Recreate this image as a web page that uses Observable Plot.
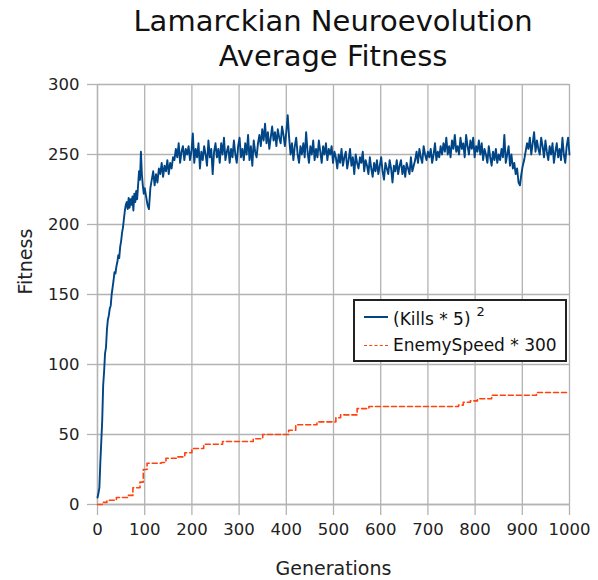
<!DOCTYPE html>
<html><head><meta charset="utf-8">
<script src="https://cdn.jsdelivr.net/npm/d3@7"></script>
<script src="https://cdn.jsdelivr.net/npm/@observablehq/plot@0.6"></script>
<style>
body{margin:0;background:#fff;font-family:"DejaVu Sans",sans-serif;}
#wrap{position:relative;width:598px;height:580px;}
#title{position:absolute;left:0;width:666px;top:4px;text-align:center;font-size:29px;line-height:35px;color:#111;}
#legend{position:absolute;left:353px;top:299px;width:210px;height:59px;border:2px solid #222;background:#fff;font-size:17px;color:#111;}
.li{position:absolute;left:9px;height:22px;display:flex;align-items:center;white-space:nowrap;}
.sw{width:24px;height:0;margin-right:5px;}
</style></head>
<body>
<div id="wrap">
<div id="title">Lamarckian Neuroevolution<br>Average Fitness</div>
<div id="chart"></div>
<div id="legend">
 <div class="li" style="top:5px"><div class="sw" style="border-top:2px solid #004586"></div><span>(Kills * 5)<sup style="font-size:13px;position:relative;top:-2px;margin-left:6px">2</sup></span></div>
 <div class="li" style="top:33px"><div class="sw" style="border-top:1.5px dashed #ff420e"></div><span>EnemySpeed * 300</span></div>
</div>
</div>
<script>
// Blue series: (Kills*5)^2 — early generations (step 2), then step 3
const killsEarlyGen = d3.range(0, 101, 2);
const killsEarlyFit = [5,8,12,30,45,60,85,95,108,112,125,132,135,140,142,150,155,160,166,165,170,173,178,176,184,188,194,198,204,210,214,216,211,219,212,218,214,220,210,222,216,224,218,228,238,232,252,236,228,222,226];
const killsLateGen = d3.range(103, 1001, 3);
const killsLateFit = [
 220,214,211,226,232,238,228,236,230,240,
 236,244,234,242,238,246,236,244,240,248,
 246,254,248,258,244,252,256,246,254,250,
 256,246,252,265,244,254,248,258,240,252,
 246,256,250,242,260,248,254,236,252,258,
 248,254,244,258,250,262,246,252,256,244,
 254,248,260,250,244,256,262,248,254,246,
 258,250,264,246,256,242,260,252,248,258,
 264,256,268,260,272,258,266,254,262,270,
 260,266,256,268,262,258,270,264,256,266,
 278,262,250,258,246,256,262,250,244,256,
 250,258,248,266,252,244,256,250,260,246,
 254,248,260,252,244,256,250,258,246,254,
 250,256,244,252,248,240,250,244,254,242,
 248,252,240,246,254,242,248,236,250,244,
 240,248,244,252,238,246,242,236,248,240,
 234,244,238,246,236,242,248,238,232,244,
 240,236,246,240,230,242,238,246,236,242,
 246,236,242,234,244,240,236,248,238,242,
 246,252,244,254,248,244,256,250,246,252,
 248,254,244,250,258,246,252,248,256,250,
 258,252,262,250,256,248,260,254,264,252,
 256,250,262,254,258,248,264,256,250,260,
 254,262,248,256,252,260,250,258,246,254,
 250,244,256,248,242,252,246,254,244,250,
 246,254,248,264,244,250,256,242,250,240,
 244,236,240,230,228,236,242,246,252,258,
 254,262,250,258,266,252,260,254,250,262,
 256,248,260,252,246,256,250,258,244,252,
 258,248,254,246,262,250,244,256,262,250];
// Orange series: EnemySpeed*300 (stepped)
const speedGen = [0,10,20,40,65,75,90,97,105,135,145,170,185,200,225,265,330,350,405,420,465,505,515,550,575,765,775,790,805,835,930,1000];
const speedFit = [0,1.5,3,5,6.5,12,16,25,29.5,30,33,34,37,40,43,45,47,50,53,57,59,62,64,68.5,70,71,73,74,75.5,78,80,80];
const xTicks = [0,100,200,300,400,500,600,700,800,900,1000];
const yTicks = [0,50,100,150,200,250,300];

const kills = killsEarlyGen.map((g,i)=>({gen:g,fit:killsEarlyFit[i]}))
  .concat(killsLateGen.map((g,i)=>({gen:g,fit:killsLateFit[i]})));
const speed = speedGen.map((g,i)=>({gen:g,fit:speedFit[i]}));
const grid = "#b3b3b3";

const chart = Plot.plot({
  width: 598, height: 580,
  marginLeft: 97, marginRight: 29, marginTop: 84, marginBottom: 76,
  style: {fontFamily: "DejaVu Sans", fontSize: "16.5px", color: "#222", background: "#fff"},
  x: {domain: [0, 1000]},
  y: {domain: [0, 300]},
  marks: [
    Plot.gridX(xTicks, {stroke: grid, strokeOpacity: 1, strokeWidth: 1.3}),
    Plot.gridY(yTicks, {stroke: grid, strokeOpacity: 1, strokeWidth: 1.3}),
    Plot.axisX({ticks: xTicks, tickSize: 11, tickPadding: 8, tickFormat: d3.format("d"), stroke: grid, strokeWidth: 1.3, label: null}),
    Plot.axisY({ticks: yTicks, tickSize: 10, tickPadding: 8, tickFormat: d3.format("d"), stroke: grid, strokeWidth: 1.3, label: null}),
    Plot.ruleY([0], {stroke: grid, strokeWidth: 1.3}),
    Plot.ruleX([0], {stroke: grid, strokeWidth: 1.3}),
    Plot.line(speed, {x: "gen", y: "fit", stroke: "#ff420e", strokeWidth: 1.6, strokeDasharray: "5,3", curve: "step-after"}),
    Plot.line(kills, {x: "gen", y: "fit", stroke: "#004586", strokeWidth: 1.9}),
    Plot.text(["Generations"], {frameAnchor: "bottom", dy: 70, fontSize: 19, fill: "#222"}),
    Plot.text(["Fitness"], {frameAnchor: "left", dx: -72, rotate: -90, fontSize: 19, fill: "#222"})
  ]
});
document.getElementById("chart").appendChild(chart);
</script>
</body></html>
